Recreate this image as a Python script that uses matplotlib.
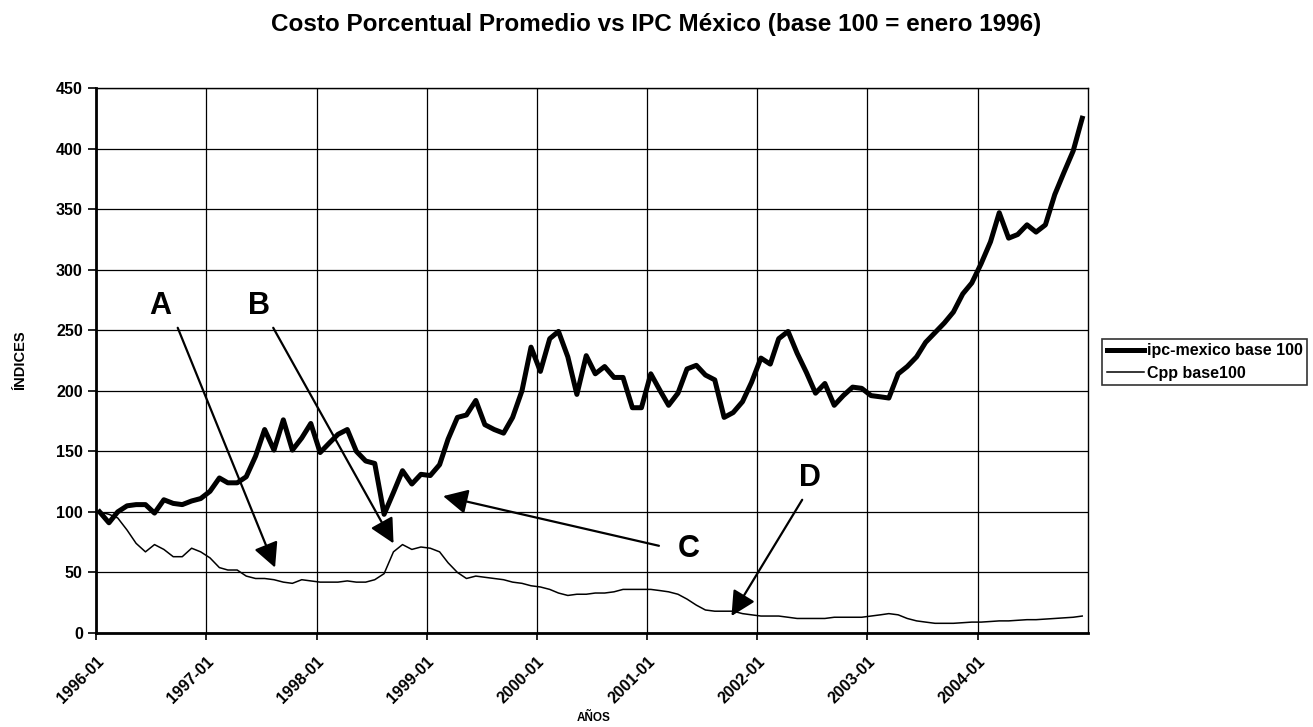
import numpy as np
import pandas as pd
import matplotlib
matplotlib.use("Agg")
import matplotlib.pyplot as plt
import matplotlib.dates as mdates
from matplotlib.patches import ArrowStyle

plt.rcParams['font.family'] = ['Liberation Sans', 'DejaVu Sans']
plt.rcParams['font.weight'] = 'bold'

# series mensuales, enero 1996 - diciembre 2004 (base 100 = enero 1996)
ipc_mexico = [
    100, 91, 100, 105, 106, 106, 99, 110, 107, 106, 109, 111,      # 1996
    117, 128, 124, 124, 129, 146, 168, 151, 176, 151, 161, 173,    # 1997
    149, 157, 164, 168, 150, 142, 140, 98, 116, 134, 123, 131,     # 1998
    130, 139, 160, 178, 180, 192, 172, 168, 165, 178, 200, 236,    # 1999
    216, 243, 249, 228, 197, 229, 214, 220, 211, 211, 186, 186,    # 2000
    214, 200, 188, 198, 218, 221, 213, 209, 178, 182, 191, 207,    # 2001
    227, 222, 243, 249, 231, 215, 198, 206, 188, 196, 203, 202,    # 2002
    196, 195, 194, 214, 220, 228, 240, 248, 256, 265, 280, 289,    # 2003
    305, 323, 347, 326, 329, 337, 331, 337, 362, 380, 398, 425,    # 2004
]
cpp = [
    100, 98, 95, 85, 74, 67, 73, 69, 63, 63, 70, 67,
    62, 54, 52, 52, 47, 45, 45, 44, 42, 41, 44, 43,
    42, 42, 42, 43, 42, 42, 44, 49, 67, 73, 69, 71,
    70, 67, 58, 50, 45, 47, 46, 45, 44, 42, 41, 39,
    38, 36, 33, 31, 32, 32, 33, 33, 34, 36, 36, 36,
    36, 35, 34, 32, 28, 23, 19, 18, 18, 18, 16, 15,
    14, 14, 14, 13, 12, 12, 12, 12, 13, 13, 13, 13,
    14, 15, 16, 15, 12, 10, 9, 8, 8, 8, 8.5, 9,
    9, 9.5, 10, 10, 10.5, 11, 11, 11.5, 12, 12.5, 13, 14,
]
fechas = pd.date_range("1996-01-01", periods=len(ipc_mexico), freq="MS") + pd.Timedelta(days=12)

years = list(range(1996, 2005))
year_labels = [f"{y}-01" for y in years]

# anotaciones: letra, posicion de la letra, inicio y punta de la flecha (meses desde ene-1996, valor)
notas = [
    ("A", (7.0, 270), (8.9, 252), (19.5, 54)),
    ("B", (17.7, 270), (19.3, 252), (32.4, 74)),
    ("C", (64.5, 69), (61.3, 72), (37.8, 113)),
    ("D", (77.7, 128), (76.9, 110), (69.2, 14)),
]

def mes2num(m):
    return mdates.date2num(pd.Timestamp("1996-01-01")) + m * 30.44

fig = plt.figure(figsize=(13.13, 7.27), dpi=100)
ax = fig.add_axes([0.0731, 0.1293, 0.7555, 0.7497])

ax.plot(fechas, ipc_mexico, color='black', lw=3.6, label='ipc-mexico base 100')
ax.plot(fechas, cpp, color='black', lw=1.1, label='Cpp base100')

ax.set_xlim(pd.Timestamp("1996-01-01"), pd.Timestamp("2005-01-01"))
ax.set_ylim(0, 450)
ax.set_yticks(range(0, 451, 50))
ax.set_xticks([pd.Timestamp(f"{y}-01-01") for y in years])
ax.set_xticklabels(year_labels, rotation=45, ha='right', rotation_mode='anchor',
                   fontsize=11.5, fontweight='bold')
ax.tick_params(axis='y', labelsize=11.5, length=6, width=1.2, direction='out')
ax.tick_params(axis='x', length=5, width=1.2, direction='out', pad=10)

ax.grid(True, color='black', lw=0.9)
ax.set_axisbelow(True)
for s in ['left', 'bottom']:
    ax.spines[s].set_linewidth(2)
for s in ['top', 'right']:
    ax.spines[s].set_linewidth(1)

for letra, pos, ini, fin in notas:
    ax.text(mes2num(pos[0]), pos[1], letra, fontsize=22, fontweight='bold',
            ha='center', va='center')
    ax.annotate('', xy=(mes2num(fin[0]), fin[1]), xytext=(mes2num(ini[0]), ini[1]),
                arrowprops=dict(arrowstyle=ArrowStyle('-|>', head_length=0.75, head_width=0.38),
                                mutation_scale=20, color='black', lw=1.6,
                                shrinkA=0, shrinkB=0))

fig.text(0.5, 1 - 24 / 727, "Costo Porcentual Promedio vs IPC México (base 100 = enero 1996)",
         ha='center', va='center', fontsize=17.5, fontweight='bold')
fig.text(20 / 1313, 1 - 360 / 727, "ÍNDICES", rotation=90, ha='center', va='center',
         fontsize=10.5, fontweight='bold')
fig.text(594 / 1313, 1 - 718 / 727, "AÑOS", ha='center', va='center',
         fontsize=8.5, fontweight='bold')

leg = fig.legend(loc='center left', bbox_to_anchor=(1102 / 1313, 1 - 362 / 727),
                 fontsize=11.5, frameon=True, fancybox=False, handlelength=2.3,
                 handletextpad=0.2, borderpad=0.3, labelspacing=0.45, borderaxespad=0)
leg.get_frame().set_edgecolor('black')
leg.get_frame().set_linewidth(1.2)

fig.savefig("out.png", dpi=100)
